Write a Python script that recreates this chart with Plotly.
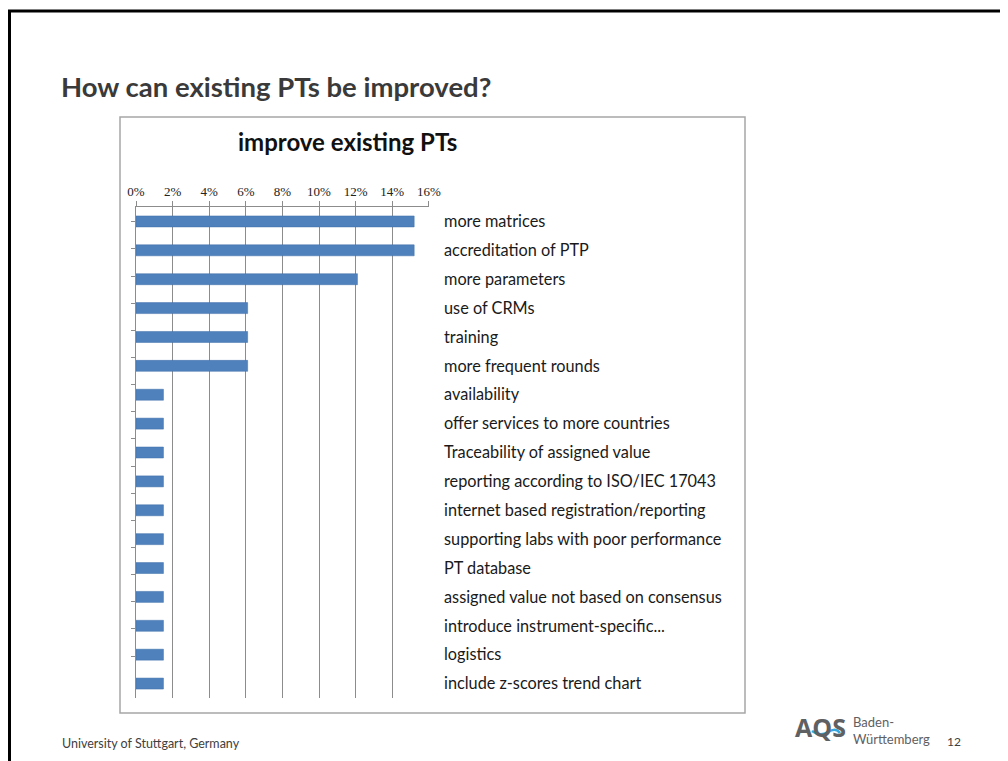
import plotly.graph_objects as go

categories = [
    "more matrices",
    "accreditation of PTP",
    "more parameters",
    "use of CRMs",
    "training",
    "more frequent rounds",
    "availability",
    "offer services to more countries",
    "Traceability of assigned value",
    "reporting according to ISO/IEC 17043",
    "internet based registration/reporting",
    "supporting labs with poor performance",
    "PT database",
    "assigned value not based on consensus",
    "introduce instrument-specific...",
    "logistics",
    "include z-scores trend chart",
]
shares = [0.152, 0.152, 0.121, 0.061, 0.061, 0.061,
          0.015, 0.015, 0.015, 0.015, 0.015, 0.015,
          0.015, 0.015, 0.015, 0.015, 0.015]
tick_vals = [0, 0.02, 0.04, 0.06, 0.08, 0.10, 0.12, 0.14, 0.16]

OFF = 8  # body margin of the page
W, H = 1008 - OFF, 761 - OFF
L, R, T, B = 136, 429, 207, 698  # plot area in screen pixels


def px_x(p):
    return (p - L) / (R - L)


def px_y(p):
    return (B - p) / (B - T)


GRID = "#8c8c8c"
BLUE = "#4f81bd"
FONT = "Lato"

fig = go.Figure()
fig.add_trace(go.Bar(
    x=shares, y=categories, orientation="h",
    marker=dict(color=BLUE, line=dict(color="#3f6fa8", width=0.5)),
    yaxis="y2", hoverinfo="x+y",
))
# ghost trace so the left axis (ticks + line) is drawn
fig.add_trace(go.Scatter(
    x=shares, y=categories, mode="markers", marker=dict(opacity=0),
    yaxis="y", hoverinfo="skip", showlegend=False,
))

fig.update_layout(
    width=W, height=H,
    margin=dict(l=L - OFF, r=W + OFF - R, t=T - OFF, b=H + OFF - B),
    paper_bgcolor="white", plot_bgcolor="white",
    showlegend=False, bargap=0.62,
    xaxis=dict(
        side="top", range=[0, 0.1601], tickvals=tick_vals, tickformat=".0%",
        showgrid=True, gridcolor=GRID, gridwidth=1,
        showline=True, linecolor=GRID, linewidth=1,
        ticks="outside", ticklen=5, tickcolor=GRID,
        tickfont=dict(family="Liberation Serif", size=13, color="#222"),
        zeroline=False, fixedrange=True,
    ),
    yaxis=dict(
        type="category", categoryorder="array", categoryarray=categories,
        autorange="reversed", showticklabels=False,
        showline=True, linecolor=GRID, linewidth=1,
        ticks="outside", ticklen=4, tickcolor=GRID, tickson="boundaries",
        showgrid=False, zeroline=False, fixedrange=True,
    ),
    yaxis2=dict(
        type="category", categoryorder="array", categoryarray=categories,
        autorange="reversed", overlaying="y", side="right",
        showline=False, ticks="", ticklabelstandoff=14, showgrid=False,
        tickfont=dict(family=FONT, size=16.3, color="#1a1a1a"),
        zeroline=False, fixedrange=True,
    ),
    shapes=[
        # slide frame
        dict(type="line", xref="paper", yref="paper",
             x0=px_x(9.5), x1=px_x(9.5), y0=px_y(10), y1=px_y(770),
             line=dict(color="black", width=3)),
        dict(type="line", xref="paper", yref="paper",
             x0=px_x(8), x1=px_x(1020), y0=px_y(11), y1=px_y(11),
             line=dict(color="black", width=3)),
        # chart box
        dict(type="rect", xref="paper", yref="paper", layer="below",
             x0=px_x(120), x1=px_x(745), y0=px_y(117), y1=px_y(713),
             line=dict(color="#a6a6a6", width=1.5)),
        # logo wave
        dict(type="path", xref="paper", yref="paper",
             path="M {:.4f},{:.4f} Q {:.4f},{:.4f} {:.4f},{:.4f} T {:.4f},{:.4f}".format(
                 px_x(812), px_y(731), px_x(820), px_y(737),
                 px_x(828), px_y(732), px_x(840), px_y(733)),
             line=dict(color="#35a8e0", width=2.5)),
    ],
    annotations=[
        dict(text="<b>How can existing PTs be improved?</b>",
             xref="paper", yref="paper", x=px_x(59), y=px_y(87),
             xanchor="left", yanchor="middle", showarrow=False,
             font=dict(family=FONT, size=27.5, color="#3a3a3a")),
        dict(text="<b>improve existing PTs</b>",
             xref="paper", yref="paper", x=px_x(347), y=px_y(141),
             xanchor="center", yanchor="middle", showarrow=False,
             font=dict(family=FONT, size=24, color="#111")),
        dict(text="University of Stuttgart, Germany",
             xref="paper", yref="paper", x=px_x(60), y=px_y(743),
             xanchor="left", yanchor="middle", showarrow=False,
             font=dict(family=FONT, size=12.5, color="#404040")),
        dict(text="<b>AQS</b>",
             xref="paper", yref="paper", x=px_x(820), y=px_y(727),
             xanchor="center", yanchor="middle", showarrow=False,
             font=dict(family="Open Sans", size=25, color="#5f6062")),
        dict(text="Baden-<br>Württemberg",
             xref="paper", yref="paper", x=px_x(851), y=px_y(730),
             xanchor="left", yanchor="middle", showarrow=False, align="left",
             font=dict(family=FONT, size=13, color="#5f6062")),
        dict(text="12",
             xref="paper", yref="paper", x=px_x(954), y=px_y(741),
             xanchor="center", yanchor="middle", showarrow=False,
             font=dict(family=FONT, size=12, color="#404040")),
    ],
)

fig.write_html("out.html")
